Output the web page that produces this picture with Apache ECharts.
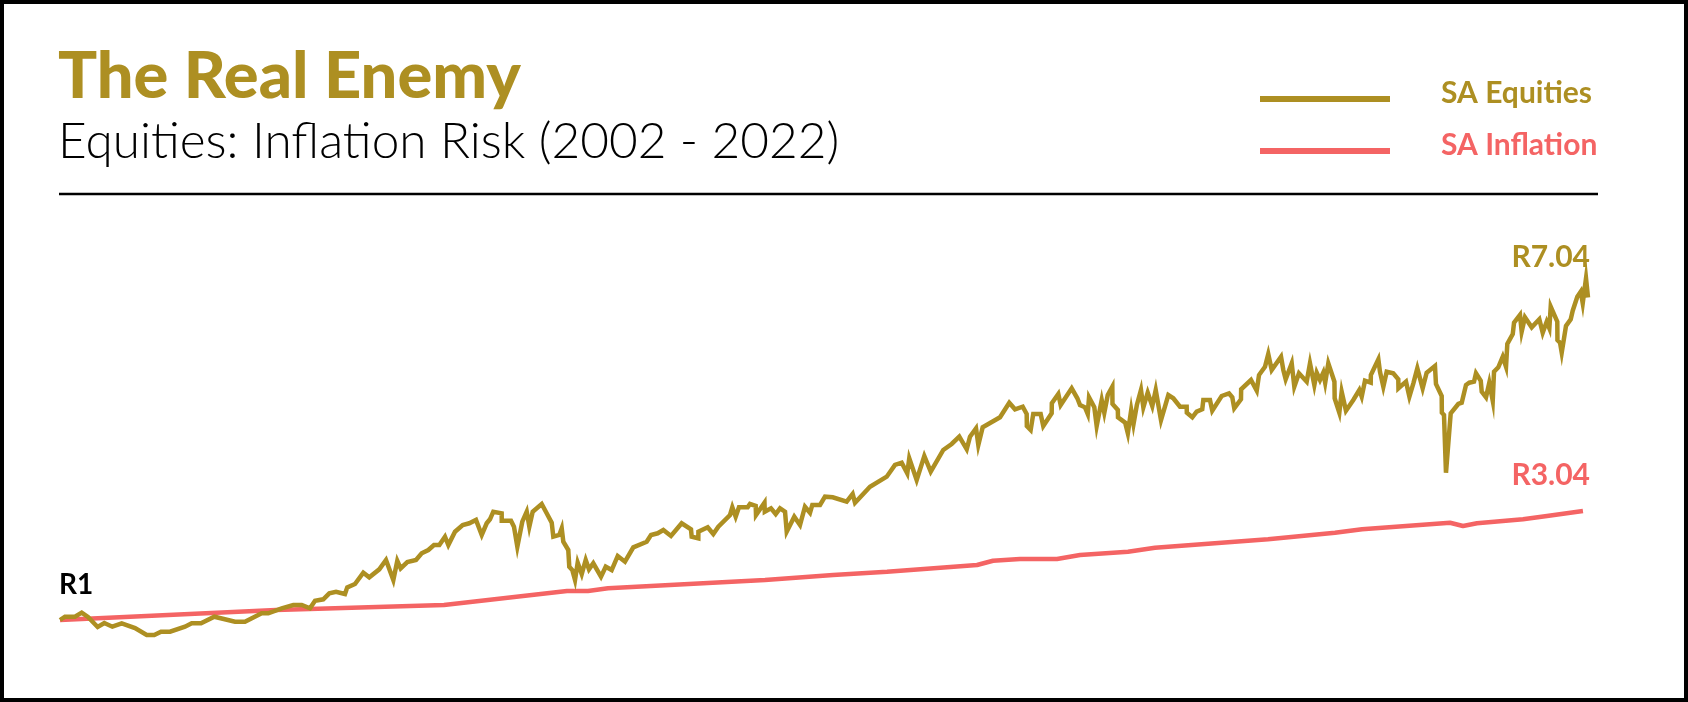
<!DOCTYPE html>
<html>
<head>
<meta charset="utf-8">
<title>The Real Enemy</title>
<script src="https://cdn.jsdelivr.net/npm/echarts@6/dist/echarts.min.js"></script>
<style>
    html, body {
        margin: 0;
        padding: 0;
        background: #fff;
    }
    #real-enemy-chart {
        width: 1688px;
        height: 702px;
    }
</style>
</head>
<body>
<div id="real-enemy-chart"></div>
<script>
// growth of R1 invested in Jan 2002
var equityYears = [
    2002.00, 2002.065, 2002.196, 2002.284, 2002.366, 2002.493, 2002.580, 2002.685, 2002.808, 2002.982,
    2003.135, 2003.234, 2003.322, 2003.440, 2003.636, 2003.724, 2003.846, 2004.020, 2004.291, 2004.421,
    2004.640, 2004.726, 2004.902, 2005.054, 2005.164, 2005.272, 2005.338, 2005.446, 2005.525, 2005.613,
    2005.730, 2005.760, 2005.861, 2005.970, 2006.048, 2006.179, 2006.267, 2006.363, 2006.415, 2006.459,
    2006.546, 2006.660, 2006.734, 2006.821, 2006.895, 2006.965, 2007.039, 2007.083, 2007.170, 2007.271,
    2007.357, 2007.445, 2007.520, 2007.585, 2007.628, 2007.671, 2007.781, 2007.782, 2007.903, 2007.942,
    2007.986, 2008.051, 2008.109, 2008.143, 2008.187, 2008.305, 2008.370, 2008.436, 2008.457, 2008.535,
    2008.567, 2008.588, 2008.653, 2008.666, 2008.705, 2008.741, 2008.776, 2008.829, 2008.881, 2008.924,
    2008.980, 2009.081, 2009.143, 2009.221, 2009.300, 2009.395, 2009.504, 2009.679, 2009.736, 2009.823,
    2009.897, 2009.997, 2010.137, 2010.259, 2010.268, 2010.355, 2010.356, 2010.478, 2010.551, 2010.617,
    2010.770, 2010.800, 2010.844, 2010.887, 2011.001, 2011.031, 2011.106, 2011.110, 2011.221, 2011.225,
    2011.306, 2011.368, 2011.424, 2011.490, 2011.512, 2011.611, 2011.686, 2011.751, 2011.817, 2011.847,
    2011.948, 2012.013, 2012.114, 2012.297, 2012.375, 2012.406, 2012.602, 2012.821, 2012.929, 2013.017,
    2013.090, 2013.116, 2013.213, 2013.313, 2013.397, 2013.561, 2013.671, 2013.771, 2013.868, 2013.911,
    2013.990, 2014.020, 2014.077, 2014.304, 2014.425, 2014.500, 2014.601, 2014.653, 2014.655, 2014.705,
    2014.739, 2014.836, 2014.870, 2014.980, 2014.982, 2015.067, 2015.098, 2015.242, 2015.316, 2015.351,
    2015.416, 2015.452, 2015.469, 2015.538, 2015.569, 2015.635, 2015.669, 2015.714, 2015.774, 2015.776,
    2015.846, 2015.848, 2015.942, 2015.977, 2016.021, 2016.051, 2016.095, 2016.149, 2016.180, 2016.237,
    2016.297, 2016.342, 2016.411, 2016.507, 2016.572, 2016.660, 2016.747, 2016.749, 2016.821, 2016.878,
    2016.951, 2016.965, 2017.052, 2017.082, 2017.205, 2017.301, 2017.344, 2017.370, 2017.458, 2017.460,
    2017.589, 2017.664, 2017.694, 2017.772, 2017.815, 2017.860, 2017.982, 2018.012, 2018.043, 2018.122,
    2018.156, 2018.217, 2018.318, 2018.361, 2018.418, 2018.449, 2018.492, 2018.535, 2018.560, 2018.601,
    2018.681, 2018.684, 2018.745, 2018.776, 2018.832, 2018.928, 2019.007, 2019.038, 2019.081, 2019.156,
    2019.158, 2019.256, 2019.277, 2019.321, 2019.365, 2019.451, 2019.517, 2019.519, 2019.618, 2019.662,
    2019.714, 2019.766, 2019.836, 2019.888, 2019.997, 2020.010, 2020.085, 2020.087, 2020.115, 2020.141,
    2020.203, 2020.302, 2020.347, 2020.403, 2020.446, 2020.508, 2020.534, 2020.596, 2020.609, 2020.665,
    2020.708, 2020.753, 2020.770, 2020.826, 2020.884, 2020.927, 2020.944, 2021.015, 2021.032, 2021.110,
    2021.132, 2021.175, 2021.263, 2021.363, 2021.407, 2021.459, 2021.494, 2021.512, 2021.598, 2021.600,
    2021.634, 2021.656, 2021.712, 2021.774, 2021.800, 2021.860, 2021.905, 2021.931, 2021.974, 2022.00
];
var equityValues = [
    1.00, 1.062, 1.062, 1.137, 1.056, 0.869, 0.944, 0.875, 0.938, 0.850,
    0.719, 0.719, 0.781, 0.781, 0.875, 0.938, 0.938, 1.062, 0.968, 0.968,
    1.125, 1.125, 1.219, 1.281, 1.281, 1.219, 1.361, 1.388, 1.500, 1.530,
    1.487, 1.612, 1.674, 1.886, 1.800, 1.949, 2.124, 1.749, 2.110, 1.968,
    2.086, 2.124, 2.249, 2.311, 2.404, 2.404, 2.560, 2.404, 2.654, 2.779,
    2.811, 2.873, 2.592, 2.811, 2.886, 3.028, 2.998, 2.860, 2.860, 2.747,
    2.373, 2.841, 3.028, 2.747, 3.028, 3.172, 2.998, 2.822, 2.560, 2.592,
    2.717, 2.466, 2.311, 1.998, 1.936, 1.749, 2.073, 1.861, 2.124, 1.949,
    2.062, 1.811, 1.998, 1.936, 2.199, 2.092, 2.361, 2.466, 2.592, 2.624,
    2.685, 2.573, 2.811, 2.699, 2.560, 2.530, 2.654, 2.736, 2.610, 2.747,
    2.966, 3.110, 2.934, 3.110, 3.110, 3.172, 3.135, 2.966, 3.197, 3.028,
    3.092, 2.985, 3.092, 3.028, 2.654, 2.934, 2.779, 3.122, 3.009, 3.154,
    3.154, 3.309, 3.298, 3.215, 3.360, 3.197, 3.496, 3.684, 3.903, 3.946,
    3.747, 4.028, 3.622, 4.071, 3.777, 4.184, 4.296, 4.433, 4.197, 4.433,
    4.590, 4.277, 4.609, 4.796, 5.069, 4.946, 4.994, 4.858, 4.633, 4.558,
    4.858, 4.858, 4.633, 4.871, 5.058, 5.232, 5.026, 5.339, 5.152, 5.026,
    4.983, 4.858, 5.170, 4.983, 4.633, 5.120, 4.882, 5.213, 5.369, 5.045,
    4.933, 4.796, 4.695, 4.496, 4.933, 4.670, 5.026, 5.307, 4.983, 5.257,
    5.007, 5.307, 4.745, 5.213, 5.152, 4.994, 4.994, 4.882, 4.796, 4.901,
    4.946, 5.120, 5.120, 4.919, 5.195, 5.245, 5.170, 4.964, 5.133, 5.320,
    5.494, 5.294, 5.588, 5.743, 5.981, 5.682, 5.931, 5.682, 5.508, 5.807,
    5.369, 5.620, 5.463, 5.807, 5.401, 5.631, 5.494, 5.631, 5.444, 5.807,
    5.463, 5.152, 4.882, 5.275, 4.919, 5.120, 5.307, 5.182, 5.481, 5.444,
    5.588, 5.882, 5.650, 5.369, 5.650, 5.620, 5.508, 5.339, 5.463, 5.182,
    5.433, 5.713, 5.339, 5.631, 5.757, 5.419, 5.195, 4.882, 4.839, 3.758,
    4.871, 5.045, 5.069, 5.401, 5.444, 5.463, 5.620, 5.481, 5.275, 5.170,
    5.444, 5.107, 5.650, 5.732, 5.931, 5.743, 6.169, 6.356, 6.567, 6.712,
    6.399, 6.669, 6.481, 6.631, 6.380, 6.586, 6.463, 6.867, 6.586, 6.243,
    6.193, 6.006, 6.506, 6.631, 6.792, 7.054, 7.148, 6.931, 7.399, 7.04
];
var inflationYears = [
    2002.00, 2004.827, 2007.026, 2008.636, 2008.911, 2009.173, 2011.228, 2012.118, 2012.825, 2014.003,
    2014.212, 2014.565, 2015.050, 2015.351, 2015.979, 2016.332, 2017.812, 2018.688, 2019.042, 2020.194,
    2020.364, 2020.547, 2021.149, 2021.463, 2021.934
];
var inflationValues = [
    1.00, 1.187, 1.281, 1.543, 1.543, 1.594, 1.749, 1.843, 1.904, 2.030,
    2.110, 2.142, 2.142, 2.217, 2.279, 2.354, 2.511, 2.635, 2.699, 2.822,
    2.760, 2.811, 2.886, 2.948, 3.04
];
var seriesNames = ['SA Equities', 'SA Inflation'];
var startLabel = 'R1';
var equityEndLabel = 'R7.04';
var inflationEndLabel = 'R3.04';

var colors = ['#ad8f22', '#f46464'];
var fontFamily = 'Lato, "Open Sans", sans-serif';

function toPairs(xs, ys) {
    return xs.map(function (x, i) { return [x, ys[i]]; });
}

var myChart = echarts.init(document.getElementById('real-enemy-chart'));

var option = {
    animation: false,
    color: colors,
    grid: {
        left: 60,
        top: 246.2,
        width: 1528,
        height: 427.2
    },
    legend: {
        orient: 'vertical',
        left: 1260,
        top: 78.5,
        padding: 0,
        itemWidth: 130,
        itemHeight: 17,
        itemGap: 22,
        // thick bar at the bottom of the icon box, so the name sits above it
        icon: 'path://M0,0M0,11L130,11L130,17L0,17Z',
        textStyle: {
            fontFamily: fontFamily,
            fontWeight: 'bold',
            fontSize: 30,
            lineHeight: 30,
            padding: [0, 0, 0, 46]
        },
        data: [
            { name: seriesNames[0], textStyle: { color: colors[0] } },
            { name: seriesNames[1], textStyle: { color: colors[1] } }
        ]
    },
    xAxis: {
        type: 'value',
        min: 2002,
        max: 2022,
        show: false
    },
    yAxis: {
        type: 'value',
        min: 0,
        max: 8,
        show: false
    },
    series: [
        {
            name: seriesNames[0],
            type: 'line',
            symbol: 'none',
            lineStyle: { width: 4.5, color: colors[0], join: 'miter' },
            data: toPairs(equityYears, equityValues),
            z: 3
        },
        {
            name: seriesNames[1],
            type: 'line',
            symbol: 'none',
            lineStyle: { width: 4.5, color: colors[1] },
            data: toPairs(inflationYears, inflationValues),
            z: 2
        }
    ],
    graphic: [
        // frame
        {
            type: 'rect',
            shape: { x: 2, y: 2, width: 1684, height: 698 },
            style: { fill: 'none', stroke: '#000', lineWidth: 4 },
            silent: true
        },
        {
            type: 'text',
            left: 58,
            top: 45,
            style: {
                text: 'The Real Enemy',
                fill: colors[0],
                font: '900 65px ' + fontFamily
            }
        },
        {
            type: 'text',
            left: 58,
            top: 117,
            style: {
                text: 'Equities: Inflation Risk (2002 - 2022)',
                fill: '#000',
                font: '300 49.5px ' + fontFamily
            }
        },
        {
            type: 'line',
            shape: { x1: 59, y1: 194, x2: 1598, y2: 194 },
            style: { stroke: '#000', lineWidth: 2.5 }
        },
        {
            type: 'text',
            x: 59,
            y: 585,
            style: {
                text: startLabel,
                fill: '#000',
                font: 'bold 28px ' + fontFamily,
                align: 'left',
                verticalAlign: 'middle'
            }
        },
        {
            type: 'text',
            x: 1590,
            y: 257,
            style: {
                text: equityEndLabel,
                fill: colors[0],
                font: 'bold 30px ' + fontFamily,
                align: 'right',
                verticalAlign: 'middle'
            }
        },
        {
            type: 'text',
            x: 1590,
            y: 475,
            style: {
                text: inflationEndLabel,
                fill: colors[1],
                font: 'bold 30px ' + fontFamily,
                align: 'right',
                verticalAlign: 'middle'
            }
        }
    ]
};

myChart.setOption(option);
</script>
</body>
</html>
